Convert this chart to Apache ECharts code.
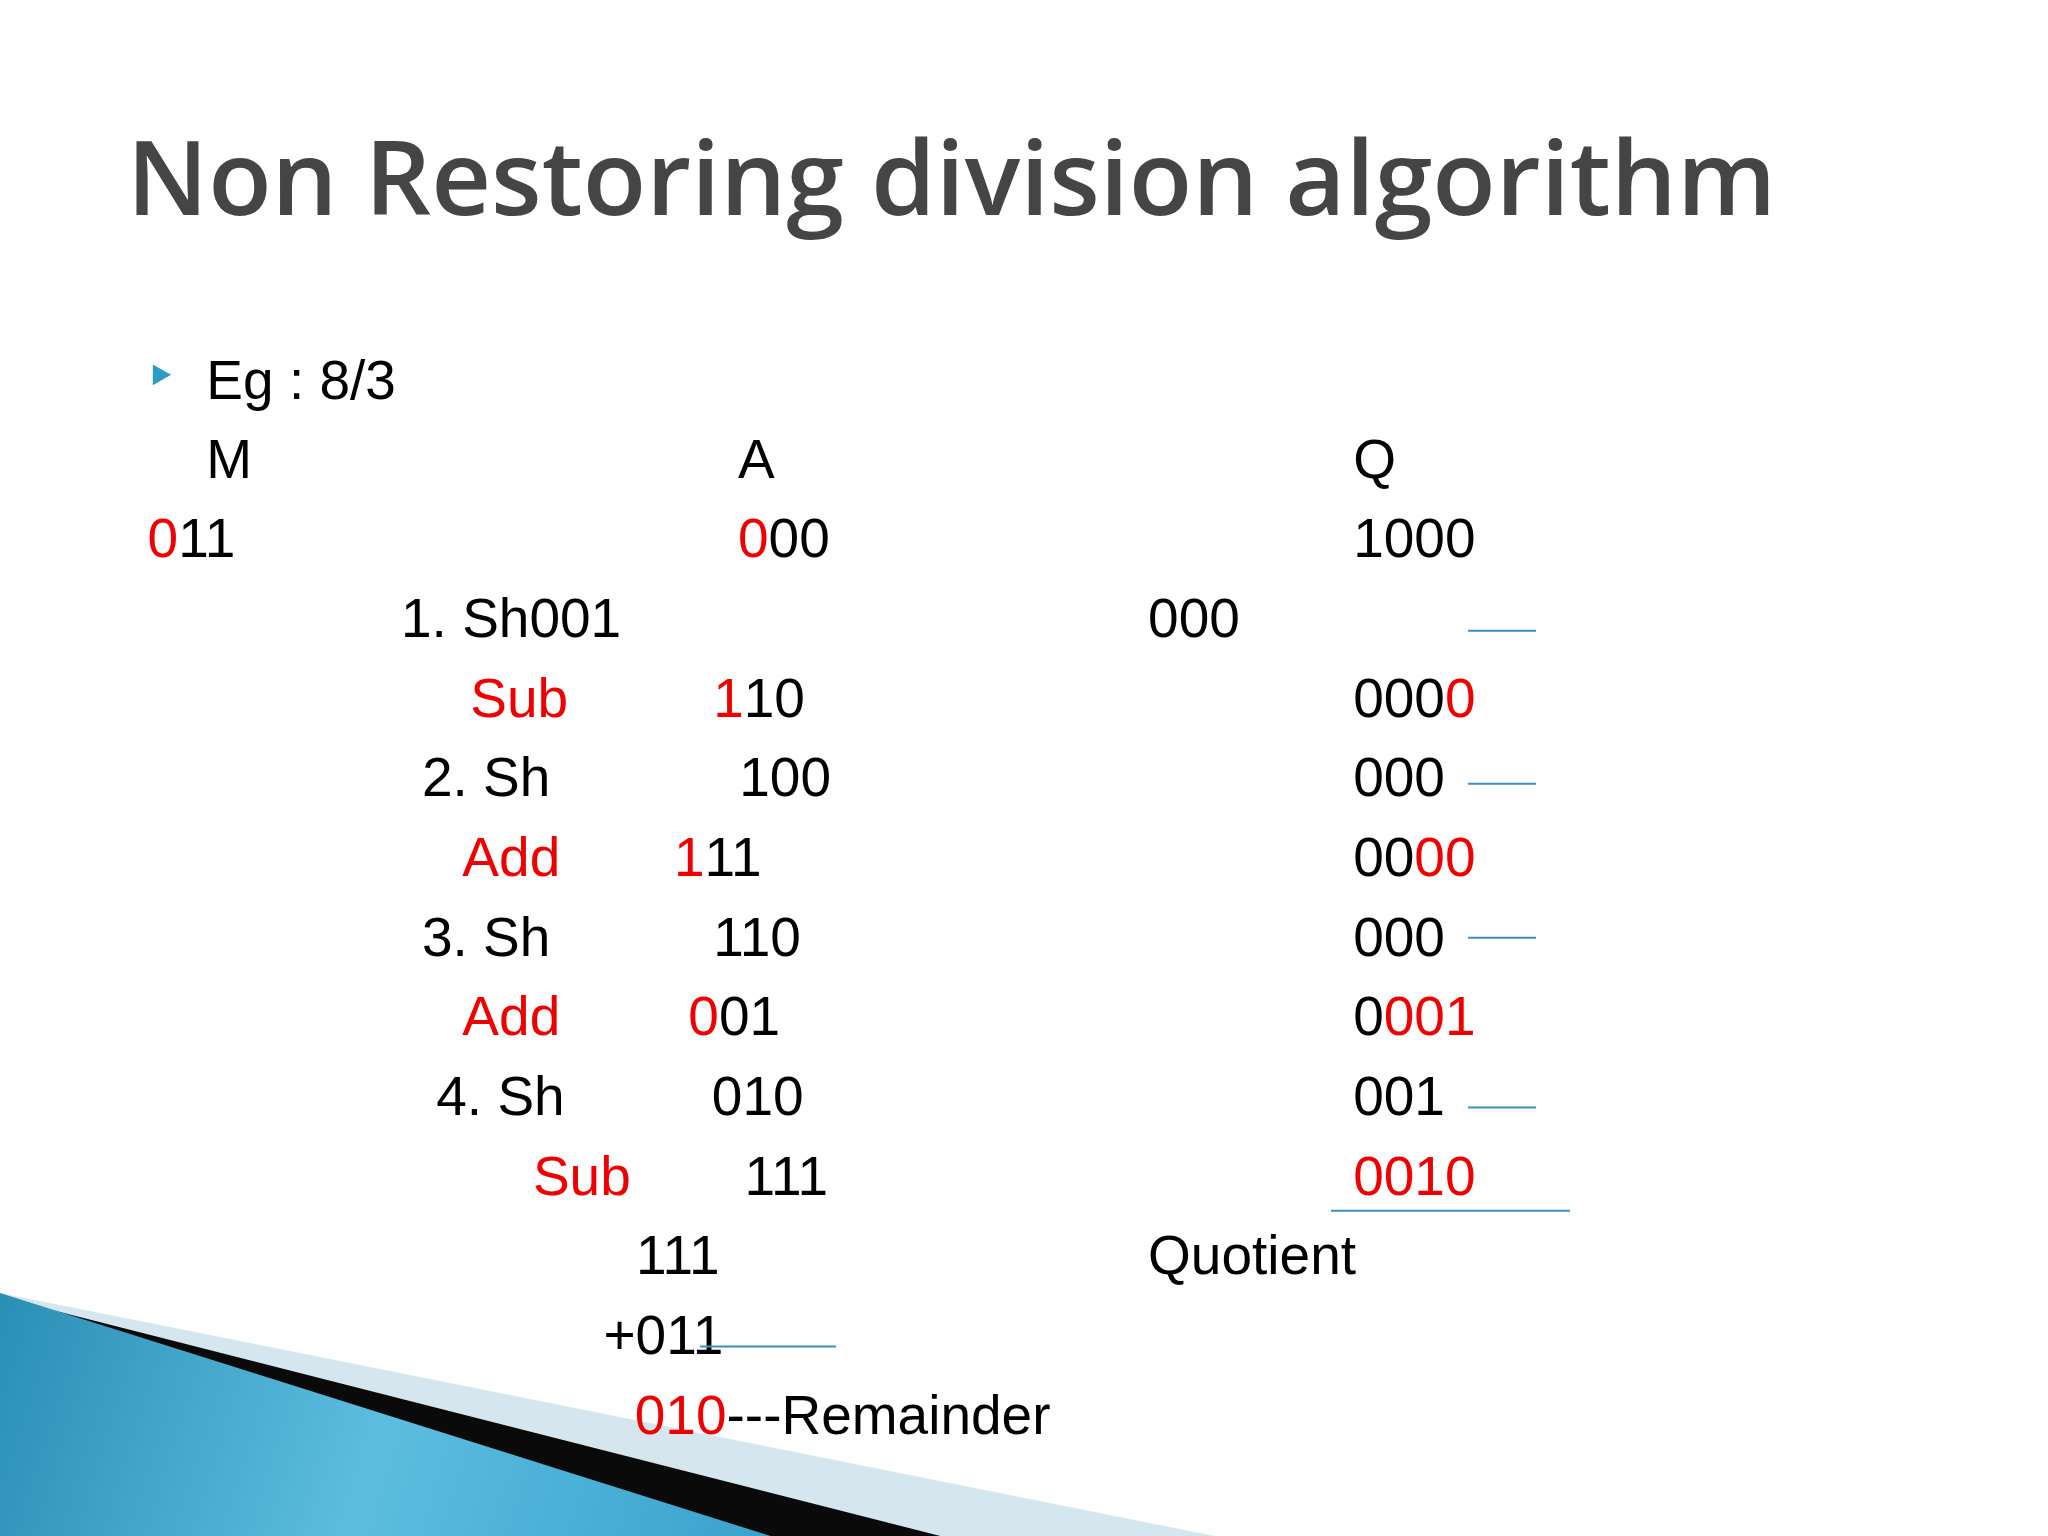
<!DOCTYPE html>
<html><head><meta charset="utf-8">
<script src="https://cdn.jsdelivr.net/npm/echarts@6/dist/echarts.min.js"></script>
<style>html,body{margin:0;padding:0;background:#fff}#c{width:2048px;height:1536px}</style>
</head><body><div id="c"></div>
<script>
const titleText = 'Non Restoring division algorithm';
// each item: row index, text parts [text, colorKey]
const rowLabels = [
  [0, [['Eg : 8/3','k']]],
  [1, [['M','k']]], [1, [['A','k']]], [1, [['Q','k']]],
  [2, [['0','r'],['11','k']]], [2, [['0','r'],['00','k']]], [2, [['1000','k']]],
  [3, [['1. Sh001','k']]], [3, [['000','k']]],
  [4, [['Sub','r']]], [4, [['1','r'],['10','k']]], [4, [['000','k'],['0','r']]],
  [5, [['2. Sh','k']]], [5, [['100','k']]], [5, [['000','k']]],
  [6, [['Add','r']]], [6, [['1','r'],['11','k']]], [6, [['00','k'],['00','r']]],
  [7, [['3. Sh','k']]], [7, [['110','k']]], [7, [['000','k']]],
  [8, [['Add','r']]], [8, [['0','r'],['01','k']]], [8, [['0','k'],['001','r']]],
  [9, [['4. Sh','k']]], [9, [['010','k']]], [9, [['001','k']]],
  [10, [['Sub','r']]], [10, [['111','k']]], [10, [['0010','r']]],
  [11, [['111','k']]], [11, [['Quotient','k']]],
  [12, [['+011','k']]],
  [13, [['010','r'],['---Remainder','k']]]
];
// layout (reference px at 1568 wide)
const itemX = [158,158,565,1036,113,565,1036,307,879,360,546,1036,323,566,1036,354,516,1036,323,546,1036,354,527,1036,334,545,1036,408,570,1036,487,879,462,486];
const rowY = [294,354,415,476,537,598,659,720,781,842,903,964,1025,1086];
const lines = [[1124,1176,483],[1124,1176,600],[1124,1176,718],[1124,1176,848],[1019,1202,927],[536,640,1031]];
const s = 2048/1568;
const colors = {k:'#000000', r:'#ee0000'};
const g = [];
// decoration
g.push({type:'polygon',shape:{points:[[0,990],[930,1176],[0,1176]].map(p=>[p[0]*s,p[1]*s])},style:{fill:'#d6e6ef'}});
g.push({type:'polygon',shape:{points:[[40,1003],[720,1176],[560,1176]].map(p=>[p[0]*s,p[1]*s])},style:{fill:'#0a0a0a'}});
g.push({type:'polygon',shape:{points:[[0,990],[590,1176],[0,1176]].map(p=>[p[0]*s,p[1]*s])},
  style:{fill:new echarts.graphic.LinearGradient(0,0,1,1,[{offset:0,color:'#2a8fb5'},{offset:0.5,color:'#5cbde0'},{offset:1,color:'#3aa3cc'}])}});
// title
g.push({type:'text',x:97*s,y:142*s,style:{text:titleText,font:'600 104px "Open Sans", sans-serif',fill:'#454545',textVerticalAlign:'middle',shadowColor:'rgba(0,0,0,0.3)',shadowBlur:6,shadowOffsetX:3,shadowOffsetY:3}});
// bullet
g.push({type:'polygon',shape:{points:[[117,279],[131,287],[117,295]].map(p=>[p[0]*s,p[1]*s])},style:{fill:'#2e9cc0'}});
rowLabels.forEach((it,i)=>{
  const rich={}; let txt='';
  it[1].forEach((p,j)=>{rich['p'+j]={fill:colors[p[1]],font:'55px "Liberation Sans", Arial, sans-serif'}; txt+='{p'+j+'|'+p[0]+'}';});
  g.push({type:'text',x:itemX[i]*s,y:rowY[it[0]]*s,style:{text:txt,rich:rich,font:'55px "Liberation Sans", Arial, sans-serif',textVerticalAlign:'middle'}});
});
lines.forEach(l=>g.push({type:'line',shape:{x1:l[0]*s,y1:l[2]*s,x2:l[1]*s,y2:l[2]*s},style:{stroke:'#3a8fc0',lineWidth:2}}));
const chart = echarts.init(document.getElementById('c'));
chart.setOption({backgroundColor:'#fff',graphic:{elements:g}});
</script></body></html>
